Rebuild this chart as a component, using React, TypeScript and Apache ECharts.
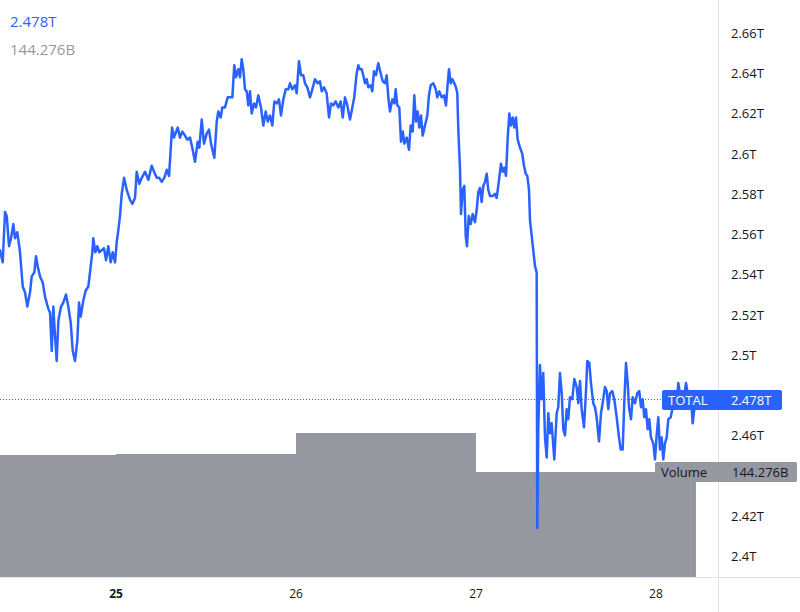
import React, { useEffect, useRef } from "react";
import * as echarts from "echarts";

// Hours since 24 Dec 00:00 -> total crypto market cap (trillions USD)
const totalCap: [number, number][] = [
  [8.53, 2.552], [8.89, 2.546], [9.2, 2.571], [9.43, 2.569], [9.73, 2.554], [10.0, 2.558], [10.31, 2.565], [10.53, 2.558],
  [10.84, 2.561], [11.2, 2.551], [11.56, 2.534], [11.87, 2.531], [12.17, 2.524], [12.53, 2.531], [12.76, 2.539], [13.11, 2.541],
  [13.33, 2.549], [13.56, 2.544], [13.87, 2.539], [14.23, 2.536], [14.53, 2.529], [14.97, 2.523], [15.2, 2.521], [15.43, 2.502],
  [15.64, 2.524], [15.87, 2.509], [16.09, 2.497], [16.31, 2.517], [16.67, 2.524], [16.97, 2.526], [17.33, 2.53], [17.64, 2.524],
  [17.96, 2.516], [18.23, 2.502], [18.53, 2.497], [18.84, 2.507], [19.07, 2.526], [19.29, 2.519], [19.64, 2.527], [19.96, 2.532],
  [20.31, 2.534], [20.53, 2.541], [20.84, 2.551], [20.97, 2.558], [21.24, 2.551], [21.51, 2.554], [21.77, 2.551], [22.09, 2.552],
  [22.4, 2.553], [22.67, 2.547], [22.97, 2.554], [23.29, 2.546], [23.56, 2.551], [23.87, 2.546], [24.09, 2.556], [24.31, 2.562],
  [24.53, 2.569], [24.76, 2.58], [25.07, 2.588], [25.43, 2.582], [25.87, 2.577], [26.17, 2.575], [26.53, 2.578], [26.76, 2.591],
  [27.11, 2.585], [27.43, 2.588], [27.87, 2.591], [28.31, 2.587], [28.76, 2.594], [29.07, 2.591], [29.43, 2.588], [29.77, 2.588],
  [30.09, 2.586], [30.44, 2.588], [30.76, 2.592], [31.07, 2.589], [31.29, 2.602], [31.47, 2.613], [31.73, 2.608],
  [32.23, 2.613], [32.53, 2.608], [32.84, 2.611], [33.2, 2.609], [33.51, 2.607], [33.87, 2.608], [34.17, 2.603], [34.53, 2.596],
  [34.89, 2.606], [35.11, 2.603], [35.43, 2.617], [35.73, 2.605], [36.09, 2.61], [36.4, 2.612], [36.67, 2.605], [37.11, 2.598],
  [37.43, 2.616], [37.64, 2.621], [37.96, 2.618], [38.17, 2.623], [38.53, 2.623], [38.89, 2.628], [39.2, 2.628], [39.51, 2.628],
  [39.77, 2.644], [40.0, 2.638], [40.31, 2.642], [40.53, 2.638], [40.76, 2.647], [40.97, 2.642], [41.2, 2.632], [41.43, 2.631],
  [41.64, 2.624], [41.87, 2.631], [42.09, 2.62], [42.4, 2.625], [42.67, 2.623], [42.97, 2.629], [43.33, 2.623], [43.64, 2.614],
  [43.96, 2.621], [44.23, 2.616], [44.53, 2.619], [44.84, 2.614], [45.11, 2.626], [45.43, 2.625], [45.73, 2.627], [46.0, 2.619],
  [46.31, 2.627], [46.63, 2.632], [46.97, 2.632], [47.2, 2.635], [47.51, 2.632], [47.87, 2.634], [48.09, 2.63], [48.4, 2.646],
  [48.67, 2.639], [48.97, 2.639], [49.2, 2.635], [49.51, 2.633], [49.87, 2.628], [50.17, 2.632], [50.53, 2.637], [50.89, 2.635],
  [51.2, 2.636], [51.43, 2.631], [51.73, 2.633], [52.09, 2.63], [52.4, 2.618], [52.67, 2.625], [52.97, 2.624], [53.29, 2.626],
  [53.64, 2.623], [53.96, 2.626], [54.23, 2.618], [54.53, 2.628], [54.84, 2.624], [55.2, 2.617], [55.51, 2.623], [55.77, 2.628],
  [56.09, 2.64], [56.31, 2.644], [56.53, 2.642], [56.76, 2.642], [56.97, 2.639], [57.2, 2.635], [57.43, 2.637], [57.64, 2.633],
  [57.96, 2.634], [58.17, 2.631], [58.4, 2.641], [58.67, 2.639], [58.97, 2.645], [59.29, 2.64], [59.56, 2.636], [59.87, 2.635],
  [60.09, 2.639], [60.31, 2.628], [60.53, 2.621], [60.84, 2.627], [61.11, 2.625], [61.29, 2.632], [61.51, 2.624], [61.77, 2.623],
  [62.0, 2.606], [62.24, 2.611], [62.44, 2.605], [62.76, 2.608], [63.07, 2.602], [63.29, 2.614], [63.56, 2.611], [63.77, 2.629],
  [64.0, 2.616], [64.22, 2.621], [64.44, 2.613], [64.67, 2.619], [64.89, 2.609], [65.2, 2.614], [65.51, 2.619], [65.73, 2.629],
  [65.96, 2.634], [66.31, 2.635], [66.63, 2.632], [66.84, 2.628], [67.11, 2.631], [67.43, 2.628], [67.73, 2.629], [68.0, 2.624],
  [68.23, 2.635], [68.4, 2.642], [68.63, 2.635], [68.84, 2.637], [69.11, 2.635], [69.33, 2.633], [69.51, 2.63], [69.64, 2.612],
  [69.87, 2.592], [70.0, 2.57], [70.23, 2.582], [70.44, 2.584], [70.63, 2.559], [70.8, 2.554], [71.03, 2.569], [71.29, 2.565],
  [71.56, 2.57], [71.87, 2.566], [72.09, 2.572], [72.31, 2.581], [72.53, 2.583], [72.76, 2.576], [72.97, 2.584], [73.2, 2.586],
  [73.43, 2.59], [73.64, 2.582], [73.87, 2.579], [74.23, 2.579], [74.53, 2.58], [74.76, 2.578], [75.07, 2.587], [75.33, 2.595],
  [75.56, 2.591], [75.77, 2.593], [76.0, 2.589], [76.23, 2.608], [76.44, 2.62], [76.67, 2.614], [76.89, 2.618], [77.11, 2.613],
  [77.33, 2.618], [77.56, 2.607], [77.87, 2.603], [78.17, 2.6], [78.4, 2.594], [78.63, 2.59], [78.84, 2.589], [79.07, 2.582],
  [79.2, 2.567], [79.64, 2.552], [79.87, 2.544], [80.09, 2.541], [80.17, 2.414], [80.31, 2.464], [80.53, 2.495], [80.76, 2.478],
  [80.97, 2.491], [81.2, 2.459], [81.43, 2.449], [81.64, 2.471], [81.87, 2.461], [82.09, 2.466], [82.44, 2.448], [82.76, 2.471],
  [82.97, 2.474], [83.2, 2.491], [83.43, 2.481], [83.64, 2.463], [83.87, 2.46], [84.09, 2.473], [84.31, 2.468], [84.53, 2.479],
  [84.84, 2.478], [85.11, 2.488], [85.43, 2.484], [85.64, 2.476], [85.87, 2.487], [86.09, 2.473], [86.4, 2.464], [86.67, 2.482],
  [86.84, 2.497], [87.11, 2.496], [87.33, 2.486], [87.64, 2.476], [87.87, 2.474], [88.09, 2.469], [88.4, 2.457], [88.67, 2.471],
  [88.97, 2.478], [89.2, 2.484], [89.43, 2.482], [89.64, 2.473], [89.87, 2.481], [90.17, 2.482], [90.44, 2.478], [90.76, 2.469],
  [91.07, 2.459], [91.29, 2.453], [91.56, 2.453], [91.77, 2.476], [92.0, 2.496], [92.23, 2.486], [92.4, 2.474], [92.67, 2.468],
  [92.89, 2.479], [93.2, 2.476], [93.51, 2.481], [93.77, 2.482], [94.0, 2.474], [94.22, 2.478], [94.44, 2.469], [94.67, 2.473],
  [94.89, 2.463], [95.11, 2.468], [95.33, 2.459], [95.64, 2.456], [95.87, 2.448], [96.09, 2.46], [96.31, 2.469], [96.53, 2.453],
  [96.76, 2.459], [96.97, 2.448], [97.2, 2.456], [97.43, 2.459], [97.64, 2.468], [97.96, 2.469], [98.23, 2.474], [98.53, 2.478],
  [98.76, 2.476], [98.97, 2.486], [99.2, 2.481], [99.43, 2.474], [99.73, 2.479], [100.0, 2.486], [100.23, 2.481], [100.44, 2.476],
  [100.67, 2.479], [100.89, 2.466], [101.11, 2.473], [101.33, 2.478],
];

// Daily volume steps (hours since 24 Dec 00:00 -> billions USD)
const volumeHours = [0, 24, 48, 72, 101.33];
const volumeValues = [167.6, 169.0, 197.9, 144.276, 144.276];

// Axis ticks
const priceTicks = [2.4, 2.42, 2.46, 2.5, 2.52, 2.54, 2.56, 2.58, 2.6, 2.62, 2.64, 2.66];
const dayTicks = [24, 48, 72, 96];
const dayLabels = ["25", "26", "27", "28"];

const LAST_TOTAL = 2.478;
const LAST_TOTAL_TEXT = "2.478T";
const LAST_VOLUME = 144.276;
const LAST_VOLUME_TEXT = "144.276B";

const BLUE = "#2962ff";
const GRAY = "#9598a1";
const TEXT = "#131722";
const BORDER = "#e0e3eb";
const FONT = "'Open Sans', sans-serif";

export default function App() {
  const ref = useRef<HTMLDivElement>(null);

  useEffect(() => {
    document.body.style.margin = "0";
    if (!ref.current) return;
    const chart = echarts.init(ref.current, null, { renderer: "svg" });

    chart.setOption({
      animation: false,
      backgroundColor: "#ffffff",
      textStyle: { fontFamily: FONT },
      grid: { left: 0, right: 82, top: 0, bottom: 35 },
      xAxis: {
        type: "value",
        min: 8.53,
        max: 104.27,
        axisLine: { show: false },
        axisTick: { show: false },
        splitLine: { show: false },
        axisLabel: {
          customValues: dayTicks,
          margin: 10,
          color: TEXT,
          fontSize: 12,
          fontFamily: FONT,
          formatter: (v: number) => {
            const i = dayTicks.indexOf(Math.round(v));
            const s = i >= 0 ? dayLabels[i] : "";
            return i === 0 ? `{b|${s}}` : s;
          },
          rich: { b: { fontWeight: "bold", fontSize: 12, color: TEXT, fontFamily: FONT } },
        },
      },
      yAxis: [
        {
          type: "value",
          position: "right",
          min: 2.3896,
          max: 2.6764,
          axisLine: { show: false },
          axisTick: { show: false },
          splitLine: { show: false },
          axisLabel: {
            customValues: priceTicks,
            inside: false,
            margin: 13,
            align: "left",
            color: TEXT,
            fontSize: 13,
            fontFamily: FONT,
            formatter: (v: number) => `${parseFloat(v.toFixed(2))}T`,
          },
        },
        {
          type: "value",
          min: 0,
          max: 792.8,
          show: false,
          splitLine: { show: false },
        },
      ],
      series: [
        {
          type: "line",
          name: "Volume",
          yAxisIndex: 1,
          step: "end",
          showSymbol: false,
          symbol: "none",
          lineStyle: { width: 0, color: GRAY },
          itemStyle: { color: GRAY },
          areaStyle: { color: GRAY, opacity: 1 },
          data: volumeHours.map((h, i) => [h, volumeValues[i]]),
          z: 1,
        },
        {
          type: "line",
          name: "TOTAL",
          yAxisIndex: 0,
          showSymbol: false,
          symbol: "none",
          lineStyle: { width: 2.5, color: BLUE, join: "round", cap: "round" },
          itemStyle: { color: BLUE },
          data: totalCap,
          z: 3,
        },
      ],
    });

    const yTotal = chart.convertToPixel({ yAxisIndex: 0 }, LAST_TOTAL) as number;
    const yVol = chart.convertToPixel({ yAxisIndex: 1 }, LAST_VOLUME) as number;
    const yDot = Math.round(yTotal) + 0.5;

    chart.setOption({
      graphic: [
        {
          type: "line",
          shape: { x1: 0, y1: yDot, x2: 662, y2: yDot },
          style: { stroke: BLUE, lineWidth: 1, lineDash: [1, 2] },
          z: 2,
          silent: true,
        },
        { type: "line", shape: { x1: 718.5, y1: 0, x2: 718.5, y2: 612 }, style: { stroke: BORDER, lineWidth: 1 }, z: 10 },
        { type: "line", shape: { x1: 0, y1: 577.5, x2: 800, y2: 577.5 }, style: { stroke: BORDER, lineWidth: 1 }, z: 10 },
        {
          type: "text",
          x: 10,
          y: 21,
          style: { text: LAST_TOTAL_TEXT, fill: BLUE, font: `15px ${FONT}`, verticalAlign: "middle", align: "left" },
          z: 20,
        },
        {
          type: "text",
          x: 10,
          y: 49,
          style: { text: LAST_VOLUME_TEXT, fill: GRAY, font: `15px ${FONT}`, verticalAlign: "middle", align: "left" },
          z: 20,
        },
        {
          type: "group",
          z: 30,
          children: [
            { type: "rect", shape: { x: 662, y: Math.round(yTotal) - 9, width: 120, height: 20, r: 2 }, style: { fill: BLUE }, z: 30 },
            { type: "text", x: 668, y: yTotal + 1, style: { text: "TOTAL", fill: "#ffffff", font: `13px ${FONT}`, verticalAlign: "middle" }, z: 31 },
            { type: "text", x: 731, y: yTotal + 1, style: { text: LAST_TOTAL_TEXT, fill: "#ffffff", font: `13px ${FONT}`, verticalAlign: "middle" }, z: 31 },
          ],
        },
        {
          type: "group",
          z: 30,
          children: [
            { type: "rect", shape: { x: 655, y: Math.round(yVol) - 10, width: 142, height: 20, r: 2 }, style: { fill: GRAY }, z: 30 },
            { type: "text", x: 661, y: yVol, style: { text: "Volume", fill: TEXT, font: `13px ${FONT}`, verticalAlign: "middle" }, z: 31 },
            { type: "text", x: 732, y: yVol, style: { text: LAST_VOLUME_TEXT, fill: TEXT, font: `13px ${FONT}`, verticalAlign: "middle" }, z: 31 },
          ],
        },
      ],
    });

    return () => chart.dispose();
  }, []);

  return <div ref={ref} style={{ width: 800, height: 612 }} />;
}
